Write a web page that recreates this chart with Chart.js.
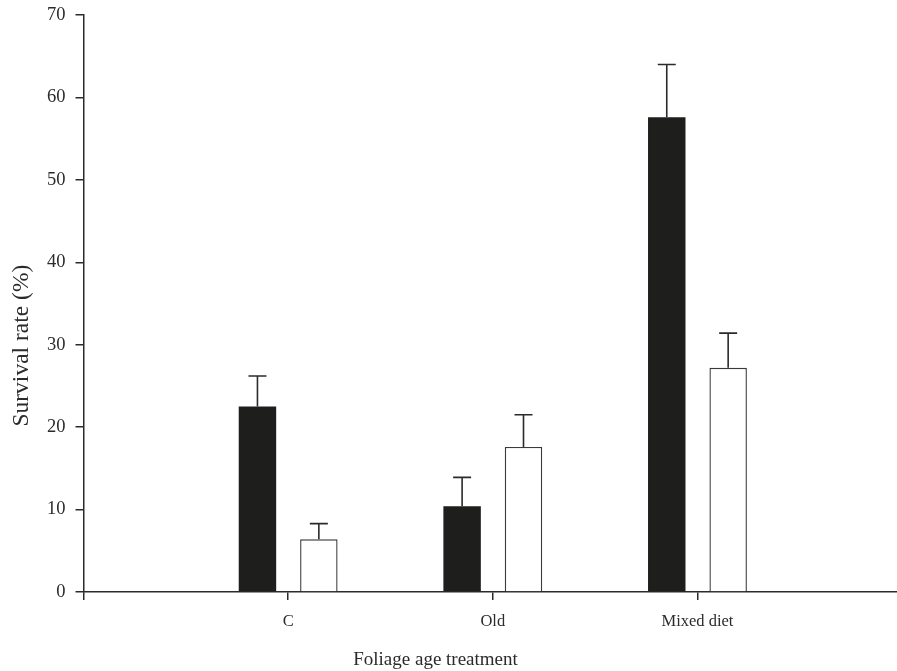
<!DOCTYPE html>
<html>
<head>
<meta charset="utf-8">
<script src="https://cdn.jsdelivr.net/npm/chart.js@4.4.0/dist/chart.umd.min.js"></script>
<style>
  html, body { margin: 0; padding: 0; background: #ffffff; overflow: hidden; }
  #wrap { width: 897px; height: 671px; }
</style>
</head>
<body>
<div id="wrap"><canvas id="c" width="897" height="671"></canvas></div>
<script>
// ---- Data ----
const categories = ['C', 'Old', 'Mixed diet'];
const darkValues = [22.5, 10.4, 57.6];
const darkErrors = [3.7, 3.5, 6.4];
const lightValues = [6.4, 17.6, 27.2];
const lightErrors = [1.9, 3.9, 4.2];
const yTickValues = [0, 10, 20, 30, 40, 50, 60, 70];
const xTitle = 'Foliage age treatment';
const yTitle = 'Survival rate (%)';

const INK = '#2b2b2b';
const SERIF = "'Liberation Serif', 'Times New Roman', serif";

function toPoints(values) {
  return values.map((v, i) => ({ x: i + 1, y: v }));
}

const errorBars = {
  id: 'errorBars',
  afterDatasetsDraw(chart) {
    const ctx = chart.ctx;
    const yScale = chart.scales.y;
    ctx.save();
    ctx.strokeStyle = INK;
    ctx.lineWidth = 1.6;
    chart.data.datasets.forEach((ds, di) => {
      const meta = chart.getDatasetMeta(di);
      meta.data.forEach((bar, j) => {
        const v = ds.data[j].y;
        const top = yScale.getPixelForValue(v + ds.errors[j]);
        const base = yScale.getPixelForValue(v);
        ctx.beginPath();
        ctx.moveTo(bar.x, base);
        ctx.lineTo(bar.x, top);
        ctx.moveTo(bar.x - 9, top);
        ctx.lineTo(bar.x + 9, top);
        ctx.stroke();
      });
    });
    ctx.restore();
  }
};

const axisTitles = {
  id: 'axisTitles',
  afterDraw(chart) {
    const ctx = chart.ctx;
    const a = chart.chartArea;
    ctx.save();
    ctx.fillStyle = INK;
    ctx.textAlign = 'center';
    ctx.textBaseline = 'middle';
    // y title
    ctx.font = '23.5px ' + SERIF;
    ctx.translate(21.5, a.top + (a.bottom - a.top) * 0.573);
    ctx.rotate(-Math.PI / 2);
    ctx.fillText(yTitle, 0, 0);
    ctx.restore();
    ctx.save();
    ctx.fillStyle = INK;
    ctx.textAlign = 'center';
    ctx.textBaseline = 'middle';
    ctx.font = '19px ' + SERIF;
    ctx.fillText(xTitle, chart.scales.x.getPixelForValue(1.72), 660);
    ctx.restore();
  }
};

new Chart(document.getElementById('c'), {
  type: 'bar',
  data: {
    datasets: [
      {
        label: 'dark',
        data: toPoints(darkValues),
        errors: darkErrors,
        backgroundColor: '#1e1e1c',
        borderColor: '#1e1e1c',
        borderWidth: 0
      },
      {
        label: 'light',
        data: toPoints(lightValues),
        errors: lightErrors,
        backgroundColor: '#ffffff',
        borderColor: '#3a3a3a',
        borderWidth: 1.4
      }
    ]
  },
  options: {
    responsive: false,
    animation: false,
    devicePixelRatio: 1,
    categoryPercentage: 0.6,
    barPercentage: 0.61,
    layout: { padding: { top: 15, left: 0, right: 0, bottom: 0 } },
    plugins: {
      legend: { display: false },
      tooltip: { enabled: false },
      title: { display: false }
    },
    scales: {
      x: {
        type: 'linear',
        offset: false,
        min: 0,
        max: 3.975,
        afterBuildTicks(scale) {
          scale.ticks = [0].concat(categories.map((c, i) => i + 1)).map(v => ({ value: v }));
        },
        afterFit(scale) {
          scale.height = 79;
          scale.paddingLeft = 0;
          scale.paddingRight = 0;
        },
        ticks: {
          autoSkip: false,
          maxRotation: 0,
          padding: 12,
          color: INK,
          font: { family: SERIF, size: 16.5 },
          callback: (v) => (v >= 1 && v <= categories.length) ? categories[v - 1] : ''
        },
        grid: {
          display: true,
          offset: false,
          drawOnChartArea: false,
          drawTicks: true,
          tickLength: 8,
          color: INK,
          lineWidth: 1.5
        },
        border: { display: true, color: INK, width: 1.5 }
      },
      y: {
        min: 0,
        max: 70,
        afterBuildTicks(scale) {
          scale.ticks = yTickValues.map(v => ({ value: v }));
        },
        afterFit(scale) {
          scale.width = 83.5;
          scale.paddingTop = 0;
          scale.paddingBottom = 0;
        },
        ticks: {
          padding: 10,
          color: INK,
          font: { family: SERIF, size: 18.5 }
        },
        grid: {
          display: true,
          drawOnChartArea: false,
          drawTicks: true,
          tickLength: 8,
          color: INK,
          lineWidth: 1.5
        },
        border: { display: true, color: INK, width: 1.5 }
      }
    }
  },
  plugins: [errorBars, axisTitles]
});
</script>
</body>
</html>
